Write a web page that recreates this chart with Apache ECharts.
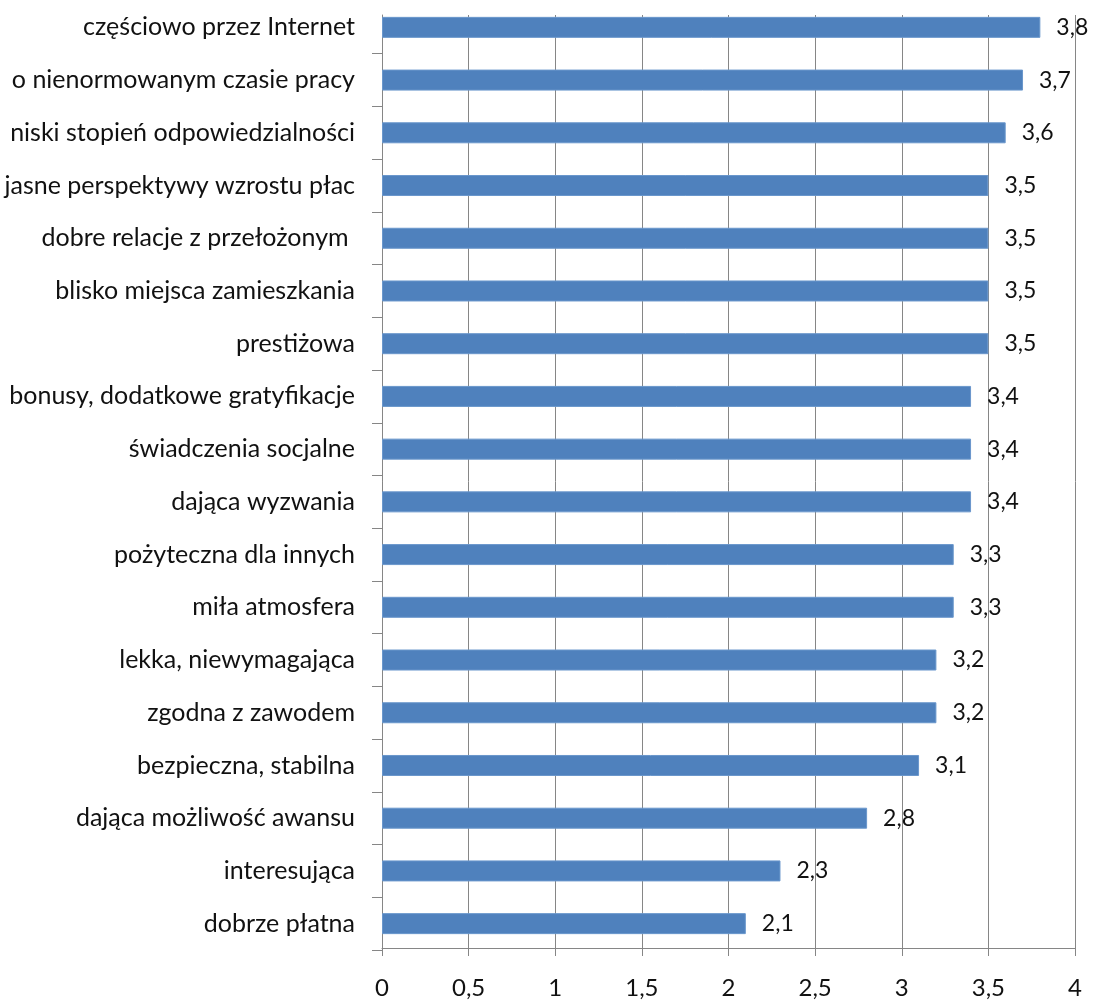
<!DOCTYPE html>
<html><head><meta charset="utf-8">
<script src="https://cdn.jsdelivr.net/npm/echarts@6/dist/echarts.min.js"></script>
<style>html,body{margin:0;padding:0;background:#fff}#c{width:1093px;height:1000px}</style>
</head><body><div id="c"></div>
<script>
const categories = ["częściowo przez Internet","o nienormowanym czasie pracy","niski stopień odpowiedzialności","jasne perspektywy wzrostu płac","dobre relacje z przełożonym ","blisko miejsca zamieszkania","prestiżowa","bonusy, dodatkowe gratyfikacje","świadczenia socjalne","dająca wyzwania","pożyteczna dla innych","miła atmosfera","lekka, niewymagająca","zgodna z zawodem","bezpieczna, stabilna","dająca możliwość awansu","interesująca","dobrze płatna"];
const values = [3.8,3.7,3.6,3.5,3.5,3.5,3.5,3.4,3.4,3.4,3.3,3.3,3.2,3.2,3.1,2.8,2.3,2.1];
const xTicks = {min:0, max:4, interval:0.5};
const font = "Lato, 'Open Sans', sans-serif";
const fmt = v => String(v).replace('.', ',');
const chart = echarts.init(document.getElementById('c'), null, {renderer:'canvas'});
chart.setOption({
  animation:false,
  grid:[
    {left:382,right:18,top:1,bottom:50,containLabel:false},
    {left:382,right:18,top:15,bottom:50,containLabel:false}
  ],
  xAxis:[
    {gridIndex:0,type:'value',min:xTicks.min,max:xTicks.max,interval:xTicks.interval,show:false},
    {gridIndex:1,type:'value',min:xTicks.min,max:xTicks.max,interval:xTicks.interval,position:'bottom',
      axisLine:{show:true,onZero:false,lineStyle:{color:'#868686',width:1}},
      axisTick:{show:true,length:8,lineStyle:{color:'#868686'}},
      splitLine:{show:true,lineStyle:{color:'#868686',width:1}},
      axisLabel:{fontFamily:font,fontSize:24,color:'#111',margin:28,formatter:fmt}}
  ],
  yAxis:[
    {gridIndex:0,type:'category',data:categories,inverse:true,
      axisLine:{show:false},
      axisTick:{show:true,length:10,interval:(i)=>i!==0,lineStyle:{color:'#868686'}},
      axisLabel:{fontFamily:font,fontSize:25,color:'#111',margin:27}},
    {gridIndex:1,type:'value',min:0,max:1,position:'left',
      axisLine:{show:true,onZero:false,lineStyle:{color:'#868686',width:1}},
      axisTick:{show:false},axisLabel:{show:false},splitLine:{show:false}}
  ],
  series:[{type:'bar',xAxisIndex:0,yAxisIndex:0,data:values,barWidth:21,
    itemStyle:{color:'#4F81BD',borderColor:'#6A97CC',borderWidth:1},
    label:{show:true,position:'right',distance:16,fontFamily:font,fontSize:23,color:'#111',
      formatter:p=>fmt(p.value)}}]
});
</script></body></html>
